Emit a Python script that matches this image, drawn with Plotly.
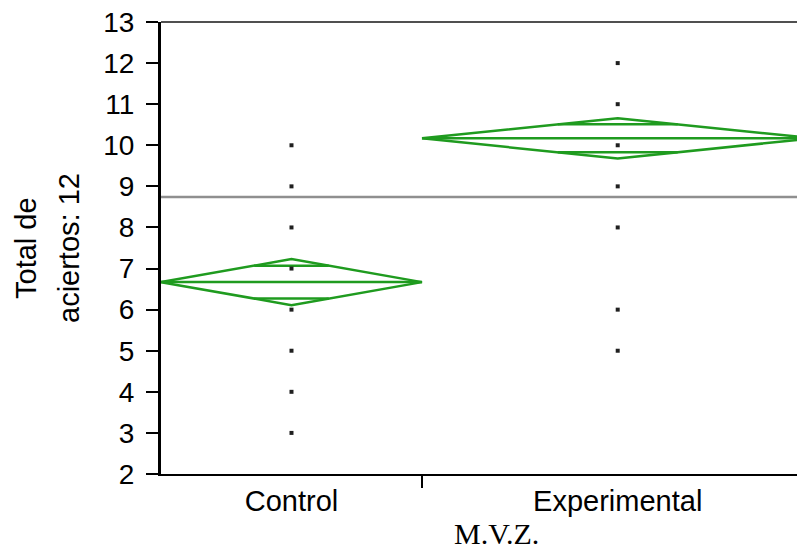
import plotly.graph_objects as go

# ---- data ----
groups = ["Control", "Experimental"]
group_width = [2.0, 3.0]          # relative group widths (proportional to sample size)
group_means = [6.67, 10.17]
ci_half = [0.56, 0.49]            # half-height of the means diamonds
overlap_half = [0.40, 0.34]       # overlap marks distance from mean
grand_mean = 8.74
control_values = [3, 4, 5, 6, 7, 8, 9, 10]
experimental_values = [5, 6, 8, 9, 10, 11, 12]
group_values = [control_values, experimental_values]
y_ticks = list(range(2, 14))

x_max = 4.874   # visible end of the x scale (last diamond is clipped at the frame)

GREEN = "#1f9b1f"
SANS = "Liberation Sans, Arial, sans-serif"
SERIF = "Liberation Serif, Times New Roman, serif"

fig = go.Figure()

total = sum(group_width)
# grand mean line
fig.add_trace(go.Scatter(x=[0, total], y=[grand_mean, grand_mean], mode="lines",
                         line=dict(color="#8f8f8f", width=2.5), hoverinfo="skip",
                         showlegend=False))

start = 0.0
centers = []
for g, w, m, ci, ov, vals in zip(groups, group_width, group_means, ci_half,
                                 overlap_half, group_values):
    left, right = start, start + w
    c = start + w / 2
    hw = w / 2
    centers.append(c)
    # diamond
    fig.add_trace(go.Scatter(x=[left, c, right, c, left], y=[m, m + ci, m, m - ci, m],
                             mode="lines", line=dict(color=GREEN, width=2.5),
                             hoverinfo="skip", showlegend=False))
    # mean line
    fig.add_trace(go.Scatter(x=[left, right], y=[m, m], mode="lines",
                             line=dict(color=GREEN, width=2.5), hoverinfo="skip",
                             showlegend=False))
    # overlap marks
    f = hw * (1 - ov / ci)
    for yy in (m + ov, m - ov):
        fig.add_trace(go.Scatter(x=[c - f, c + f], y=[yy, yy], mode="lines",
                                 line=dict(color=GREEN, width=2.5), hoverinfo="skip",
                                 showlegend=False))
    # points
    fig.add_trace(go.Scatter(x=[c] * len(vals), y=vals, mode="markers",
                             marker=dict(symbol="square", size=4, color="#202020"),
                             hoverinfo="skip", showlegend=False))
    start = right

fig.update_layout(
    width=798, height=551,
    margin=dict(l=161, r=1, t=22, b=77),
    plot_bgcolor="white", paper_bgcolor="white",
    showlegend=False,
    font=dict(family=SANS, size=28, color="black"),
    xaxis=dict(range=[0, x_max], showgrid=False, zeroline=False,
               showline=True, linecolor="black", linewidth=2,
               tickvals=centers, ticktext=groups, ticks="",
               tickfont=dict(family=SANS, size=29, color="black"),
               ticklabelstandoff=0,
               minor=dict(tickvals=[group_width[0]], ticks="outside", ticklen=12,
                          tickwidth=2, tickcolor="black", showgrid=False)),
    yaxis=dict(range=[2, 13], showgrid=False, zeroline=False,
               showline=True, linecolor="black", linewidth=3,
               tickvals=y_ticks, ticks="outside", ticklen=12, tickwidth=2,
               tickcolor="black", ticklabelstandoff=6,
               tickfont=dict(family=SANS, size=28, color="black")),
    shapes=[dict(type="line", xref="paper", yref="paper", x0=0, x1=1, y0=1, y1=1,
                 line=dict(color="#505050", width=2))],
    annotations=[
        dict(text="Total de", xref="paper", yref="paper", x=0, y=0.5,
             xanchor="center", yanchor="middle", xshift=-135, textangle=-90,
             showarrow=False, font=dict(family=SANS, size=29, color="black")),
        dict(text="aciertos: 12", xref="paper", yref="paper", x=0, y=0.5,
             xanchor="center", yanchor="middle", xshift=-92, textangle=-90,
             showarrow=False, font=dict(family=SANS, size=29, color="black")),
        dict(text="M.V.Z.", xref="paper", yref="paper", x=(496 - 161) / 636, y=0,
             xanchor="center", yanchor="bottom", yshift=-77, showarrow=False,
             borderpad=0,
             font=dict(family=SERIF, size=30, color="black")),
    ],
)

fig.write_html("out.html")
